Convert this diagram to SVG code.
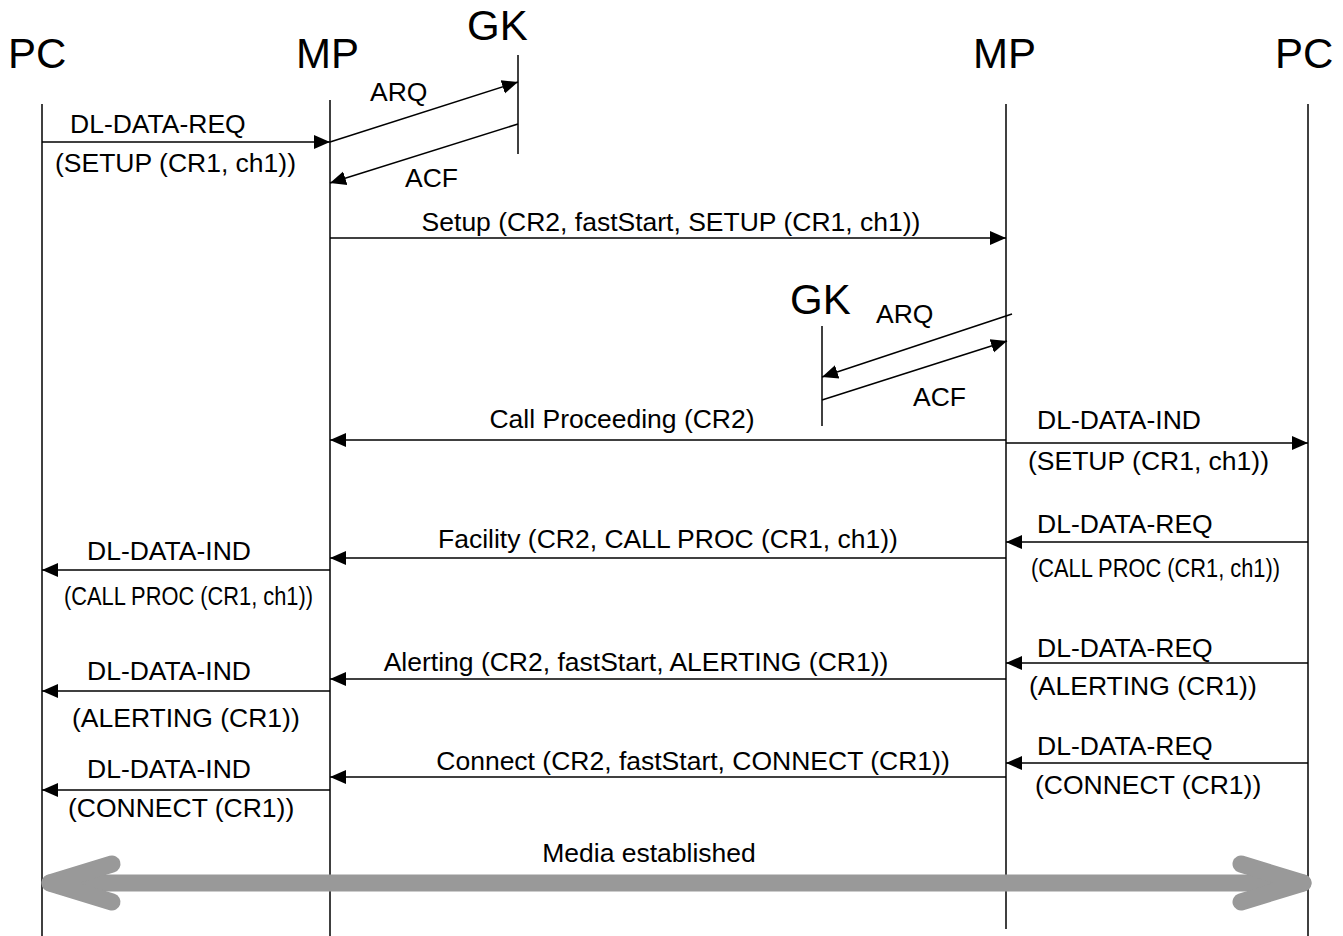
<svg xmlns="http://www.w3.org/2000/svg" width="1343" height="936" viewBox="0 0 1343 936">
<defs>
<marker id="ah" markerUnits="userSpaceOnUse" markerWidth="17" markerHeight="16" refX="16" refY="8" orient="auto">
<path d="M0,1 L16,8 L0,15 z" fill="#000"/>
</marker>
<style>
.t{font-family:"Liberation Sans",Arial,sans-serif;font-size:26.5px;fill:#000}
.big{font-family:"Liberation Sans",Arial,sans-serif;font-size:42px;fill:#000}
.life{stroke:#000;stroke-width:1.5;fill:none}
.msg{stroke:#000;stroke-width:1.5;fill:none;marker-end:url(#ah)}
.media{stroke:#999;stroke-width:17;fill:none;stroke-linecap:round;stroke-linejoin:round}
</style>
</defs>
<rect width="1343" height="936" fill="#fff"/>
<g id="pc-left"><line class="life" x1="42" y1="104" x2="42" y2="936"/><text class="big" x="8" y="68">PC</text></g>
<g id="mp-left"><line class="life" x1="330" y1="100" x2="330" y2="936"/><text class="big" x="296" y="68">MP</text></g>
<g id="gk-top"><line class="life" x1="518" y1="55" x2="518" y2="154"/><text class="big" x="467" y="40">GK</text></g>
<g id="mp-right"><line class="life" x1="1006" y1="104" x2="1006" y2="929"/><text class="big" x="973" y="68">MP</text></g>
<g id="pc-right"><line class="life" x1="1308" y1="104" x2="1308" y2="936"/><text class="big" x="1275" y="68">PC</text></g>
<g id="gk-mid"><line class="life" x1="822" y1="326" x2="822" y2="426"/><text class="big" x="790" y="314">GK</text></g>
<g id="connectors">
<path class="msg" d="M42,142 H330"/>
<path class="msg" d="M330,142 L518,82"/>
<path class="msg" d="M518,124 L330,183"/>
<path class="msg" d="M330,238 H1006"/>
<path class="msg" d="M1012,314 L822,377"/>
<path class="msg" d="M822,400 L1007,341"/>
<path class="msg" d="M1006,440 H330"/>
<path class="msg" d="M1006,443 H1308"/>
<path class="msg" d="M1308,542 H1006"/>
<path class="msg" d="M1006,558 H330"/>
<path class="msg" d="M330,570 H42"/>
<path class="msg" d="M1308,663 H1006"/>
<path class="msg" d="M1006,679 H330"/>
<path class="msg" d="M330,691 H42"/>
<path class="msg" d="M1308,763 H1006"/>
<path class="msg" d="M1006,777 H330"/>
<path class="msg" d="M330,790 H42"/>
<path class="media" d="M50,883 H1303"/>
<path class="media" d="M112,864 L50,883 L112,902"/>
<path class="media" d="M1241,864 L1303,883 L1241,902"/>
</g>
<g id="labels">
<text class="t" x="70" y="133">DL-DATA-REQ</text>
<text class="t" x="55" y="172">(SETUP (CR1, ch1))</text>
<text class="t" x="370" y="101">ARQ</text>
<text class="t" x="405" y="187">ACF</text>
<text class="t" x="671" y="231" text-anchor="middle">Setup (CR2, fastStart, SETUP (CR1, ch1))</text>
<text class="t" x="876" y="323">ARQ</text>
<text class="t" x="913" y="406">ACF</text>
<text class="t" x="622" y="428" text-anchor="middle">Call Proceeding (CR2)</text>
<text class="t" x="1037" y="429">DL-DATA-IND</text>
<text class="t" x="1028" y="470">(SETUP (CR1, ch1))</text>
<text class="t" x="1037" y="533">DL-DATA-REQ</text>
<text class="t" x="1031" y="577" textLength="249" lengthAdjust="spacingAndGlyphs">(CALL PROC (CR1, ch1))</text>
<text class="t" x="668" y="548" text-anchor="middle">Facility (CR2, CALL PROC (CR1, ch1))</text>
<text class="t" x="87" y="560">DL-DATA-IND</text>
<text class="t" x="64" y="605" textLength="249" lengthAdjust="spacingAndGlyphs">(CALL PROC (CR1, ch1))</text>
<text class="t" x="1037" y="657">DL-DATA-REQ</text>
<text class="t" x="1029" y="695">(ALERTING (CR1))</text>
<text class="t" x="636" y="671" text-anchor="middle">Alerting (CR2, fastStart, ALERTING (CR1))</text>
<text class="t" x="87" y="680">DL-DATA-IND</text>
<text class="t" x="72" y="727">(ALERTING (CR1))</text>
<text class="t" x="1037" y="755">DL-DATA-REQ</text>
<text class="t" x="1035" y="794">(CONNECT (CR1))</text>
<text class="t" x="693" y="770" text-anchor="middle">Connect (CR2, fastStart, CONNECT (CR1))</text>
<text class="t" x="87" y="778">DL-DATA-IND</text>
<text class="t" x="68" y="817">(CONNECT (CR1))</text>
<text class="t" x="649" y="862" text-anchor="middle">Media established</text>
</g>
</svg>
